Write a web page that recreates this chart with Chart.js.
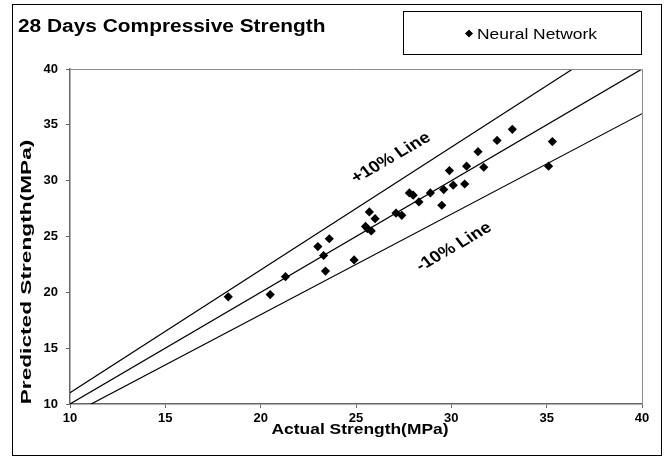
<!DOCTYPE html>
<html>
<head>
<meta charset="utf-8">
<title>28 Days Compressive Strength</title>
<script src="https://cdn.jsdelivr.net/npm/chart.js@4.4.1/dist/chart.umd.min.js"></script>
<style>
  html, body { margin: 0; padding: 0; background: #fff; }
  #wrap { position: relative; width: 669px; height: 459px; }
</style>
</head>
<body>
<div id="wrap"><canvas id="strengthChart"></canvas></div>
<script>
// Nilai dibaca dari grafik referensi (MPa)
const actualStrength = [
    18.3, 20.5, 21.3, 23.4, 23.0, 23.6, 23.3, 24.9, 25.5, 25.6, 25.8,
    25.7, 26.0, 27.1, 27.4, 27.8, 28.0, 28.3, 28.9, 29.5, 29.6, 29.9,
    30.1, 30.7, 30.8, 31.4, 31.7, 32.4, 33.2, 35.3, 35.1
];
const predictedStrength = [
    19.6, 19.8, 21.4, 21.9, 24.1, 24.8, 23.3, 22.9, 25.9, 25.7, 25.5,
    27.2, 26.6, 27.1, 26.9, 28.9, 28.7, 28.1, 28.9, 27.8, 29.2, 30.9,
    29.6, 29.7, 31.3, 32.6, 31.2, 33.6, 34.6, 33.5, 31.3
];

// Garis referensi
const refLineX = [10, 40];
const equalLineY = [10, 40];
const plus10LineY = [11, 44];
const minus10LineY = [9, 36];

const tickValues = [10, 15, 20, 25, 30, 35, 40];

const FONT = '"Liberation Sans", Arial, sans-serif';
const SX = 1.16; // teks di gambar referensi sedikit melebar

function toPoints(xs, ys) {
    return xs.map((x, i) => ({ x: x, y: ys[i] }));
}

function lineDataset(ys) {
    return {
        data: toPoints(refLineX, ys),
        showLine: true,
        borderColor: '#000',
        borderWidth: 1.2,
        pointRadius: 0,
        pointHoverRadius: 0
    };
}

// Judul, legenda, label garis dan bingkai
const decorations = {
    id: 'decorations',
    afterDraw(chart) {
        const ctx = chart.ctx;
        const area = chart.chartArea;
        ctx.save();

        // border plot area (atas / kanan)
        ctx.strokeStyle = '#8a8a8a';
        ctx.lineWidth = 1;
        ctx.beginPath();
        ctx.moveTo(area.left, area.top + 0.5);
        ctx.lineTo(area.right + 0.5, area.top + 0.5);
        ctx.lineTo(area.right + 0.5, area.bottom);
        ctx.stroke();

        // bingkai luar
        ctx.strokeStyle = '#000';
        ctx.lineWidth = 1;
        ctx.strokeRect(12.5, 4.5, 649, 451);

        ctx.fillStyle = '#000';
        ctx.textBaseline = 'alphabetic';

        // judul
        ctx.save();
        ctx.translate(18, 31.5);
        ctx.scale(SX, 1);
        ctx.font = 'bold 18px ' + FONT;
        ctx.textAlign = 'left';
        ctx.fillText('28 Days Compressive Strength', 0, 0);
        ctx.restore();

        // legenda
        ctx.strokeRect(403.5, 11.5, 238, 43);
        Chart.helpers.drawPoint(ctx, {
            pointStyle: 'rectRot', radius: 3.8, borderWidth: 0, rotation: 0
        }, 469, 33.5);
        ctx.fill();
        ctx.save();
        ctx.translate(477, 38.5);
        ctx.scale(SX, 1);
        ctx.font = '15px ' + FONT;
        ctx.textAlign = 'left';
        ctx.fillText('Neural Network', 0, 0);
        ctx.restore();

        // judul sumbu x
        ctx.save();
        ctx.translate((area.left + area.right) / 2 + 4, 433.5);
        ctx.scale(SX, 1);
        ctx.font = 'bold 15px ' + FONT;
        ctx.textAlign = 'center';
        ctx.fillText('Actual Strength(MPa)', 0, 0);
        ctx.restore();

        // judul sumbu y (memanjang)
        ctx.save();
        ctx.translate(27, 272);
        ctx.rotate(-Math.PI / 2);
        ctx.scale(1.62, 1);
        ctx.font = 'bold 14px ' + FONT;
        ctx.textAlign = 'center';
        ctx.textBaseline = 'middle';
        ctx.fillText('Predicted Strength(MPa)', 0, 0);
        ctx.restore();

        // label garis +/-10%
        const ang = Math.atan(SX * Math.tan(30 * Math.PI / 180));
        [['+10% Line', 391, 158], ['-10% Line', 454, 247]].forEach(function (lbl) {
            ctx.save();
            ctx.translate(lbl[1], lbl[2]);
            ctx.scale(SX, 1);
            ctx.rotate(-ang);
            ctx.font = 'bold 16px ' + FONT;
            ctx.textAlign = 'center';
            ctx.textBaseline = 'middle';
            ctx.fillText(lbl[0], 0, 0);
            ctx.restore();
        });

        ctx.restore();
    }
};

function axisOptions(isX) {
    return {
        type: 'linear',
        min: 10,
        max: 40,
        afterBuildTicks: function (axis) {
            axis.ticks = tickValues.map(v => ({ value: v }));
        },
        afterFit: function (scale) {
            if (isX) {
                scale.height = 55;
            } else {
                scale.width = 70;
            }
        },
        grid: {
            drawOnChartArea: false,
            drawTicks: true,
            tickLength: 4,
            color: '#666',
            lineWidth: 1
        },
        border: { display: true, color: '#666', width: 1.5 },
        ticks: {
            color: '#000',
            font: { family: FONT, size: 13, weight: 'bold' },
            padding: isX ? 3 : 8,
            maxRotation: 0
        }
    };
}

new Chart(document.getElementById('strengthChart'), {
    type: 'scatter',
    data: {
        datasets: [
            {
                label: 'Neural Network',
                data: toPoints(actualStrength, predictedStrength),
                pointStyle: 'rectRot',
                pointRadius: 4.6,
                pointHoverRadius: 4.6,
                pointBackgroundColor: '#000',
                pointBorderWidth: 0,
                showLine: false
            },
            lineDataset(plus10LineY),
            lineDataset(equalLineY),
            lineDataset(minus10LineY)
        ]
    },
    options: {
        responsive: true,
        maintainAspectRatio: false,
        animation: false,
        devicePixelRatio: 1,
        layout: { padding: { top: 69, right: 27, left: 0, bottom: 0 } },
        plugins: {
            legend: { display: false },
            title: { display: false },
            tooltip: { enabled: false }
        },
        scales: {
            x: axisOptions(true),
            y: axisOptions(false)
        }
    },
    plugins: [decorations]
});
</script>
</body>
</html>
